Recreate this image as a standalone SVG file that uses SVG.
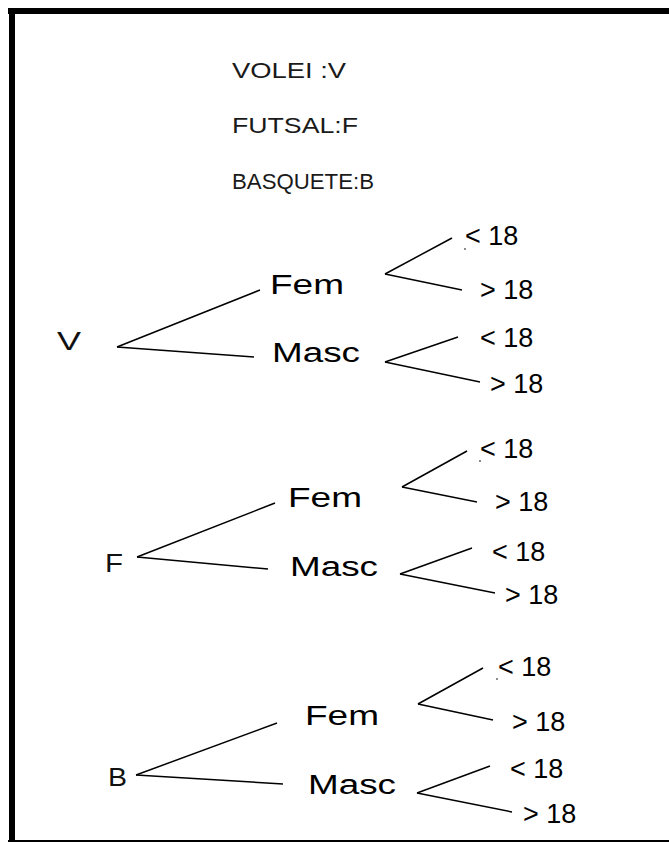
<svg xmlns="http://www.w3.org/2000/svg" width="669" height="842" viewBox="0 0 669 842">
<style>
.leg{font-family:"Liberation Sans",Arial,sans-serif;font-size:22px;fill:#1a1a1a}
.root{font-family:"Liberation Sans",Arial,sans-serif;font-size:26px;fill:#111}
.lab{font-family:"Liberation Sans",Arial,sans-serif;font-size:27px;fill:#000}
.age{font-family:"Liberation Sans",Arial,sans-serif;font-size:27px;fill:#000}
.c line{stroke:#000;stroke-width:1.5;fill:none}
.dot{fill:#555}
</style>
<rect x="0" y="0" width="669" height="842" fill="#fff"/>
<g id="frame">
<rect x="8" y="8" width="661" height="6" fill="#000"/>
<rect x="9" y="8" width="6" height="834" fill="#000"/>
<rect x="8" y="840" width="661" height="2" fill="#000"/>
</g>
<g id="legend">
<text class="leg" x="232" y="78" textLength="114" lengthAdjust="spacingAndGlyphs">VOLEI :V</text>
<text class="leg" x="232" y="133" textLength="126" lengthAdjust="spacingAndGlyphs">FUTSAL:F</text>
<text class="leg" x="232" y="189" textLength="142" lengthAdjust="spacingAndGlyphs">BASQUETE:B</text>
</g>
<g id="connectors" class="c">
<line x1="117" y1="347" x2="260" y2="290"/>
<line x1="117" y1="347" x2="254" y2="357"/>
<line x1="385" y1="274" x2="452" y2="238"/>
<line x1="385" y1="274" x2="462" y2="290"/>
<line x1="385" y1="362" x2="458" y2="337"/>
<line x1="385" y1="362" x2="480" y2="382"/>
<line x1="137" y1="557" x2="275" y2="503"/>
<line x1="137" y1="557" x2="268" y2="569"/>
<line x1="402" y1="487" x2="467" y2="451"/>
<line x1="402" y1="487" x2="477" y2="502"/>
<line x1="400" y1="574" x2="472" y2="548"/>
<line x1="400" y1="574" x2="495" y2="593"/>
<line x1="136" y1="775" x2="277" y2="723"/>
<line x1="136" y1="775" x2="283" y2="784"/>
<line x1="418" y1="704" x2="483" y2="668"/>
<line x1="418" y1="704" x2="493" y2="720"/>
<line x1="417" y1="793" x2="490" y2="766"/>
<line x1="417" y1="793" x2="512" y2="812"/>
</g>
<g id="dots">
<circle class="dot" cx="465" cy="249" r="0.9"/>
<circle class="dot" cx="480" cy="461" r="0.9"/>
<circle class="dot" cx="497" cy="679" r="0.9"/>
</g>
<g id="node-V"><text class="root" x="57" y="350" textLength="24" lengthAdjust="spacingAndGlyphs">V</text></g>
<g id="node-V-Fem"><text class="lab" x="270" y="294" textLength="74" lengthAdjust="spacingAndGlyphs">Fem</text></g>
<g id="node-V-Masc"><text class="lab" x="272" y="362" textLength="88" lengthAdjust="spacingAndGlyphs">Masc</text></g>
<g id="node-V-Fem-lt"><text class="age" x="465" y="245">&lt; 18</text></g>
<g id="node-V-Fem-gt"><text class="age" x="480" y="299">&gt; 18</text></g>
<g id="node-V-Masc-lt"><text class="age" x="480" y="347">&lt; 18</text></g>
<g id="node-V-Masc-gt"><text class="age" x="490" y="393">&gt; 18</text></g>
<g id="node-F"><text class="root" x="105" y="572" textLength="18" lengthAdjust="spacingAndGlyphs">F</text></g>
<g id="node-F-Fem"><text class="lab" x="288" y="507" textLength="74" lengthAdjust="spacingAndGlyphs">Fem</text></g>
<g id="node-F-Masc"><text class="lab" x="290" y="576" textLength="88" lengthAdjust="spacingAndGlyphs">Masc</text></g>
<g id="node-F-Fem-lt"><text class="age" x="480" y="458">&lt; 18</text></g>
<g id="node-F-Fem-gt"><text class="age" x="495" y="511">&gt; 18</text></g>
<g id="node-F-Masc-lt"><text class="age" x="492" y="561">&lt; 18</text></g>
<g id="node-F-Masc-gt"><text class="age" x="505" y="604">&gt; 18</text></g>
<g id="node-B"><text class="root" x="108" y="786" textLength="19" lengthAdjust="spacingAndGlyphs">B</text></g>
<g id="node-B-Fem"><text class="lab" x="305" y="725" textLength="74" lengthAdjust="spacingAndGlyphs">Fem</text></g>
<g id="node-B-Masc"><text class="lab" x="308" y="794" textLength="88" lengthAdjust="spacingAndGlyphs">Masc</text></g>
<g id="node-B-Fem-lt"><text class="age" x="498" y="676">&lt; 18</text></g>
<g id="node-B-Fem-gt"><text class="age" x="512" y="731">&gt; 18</text></g>
<g id="node-B-Masc-lt"><text class="age" x="510" y="778">&lt; 18</text></g>
<g id="node-B-Masc-gt"><text class="age" x="523" y="823">&gt; 18</text></g>
</svg>
